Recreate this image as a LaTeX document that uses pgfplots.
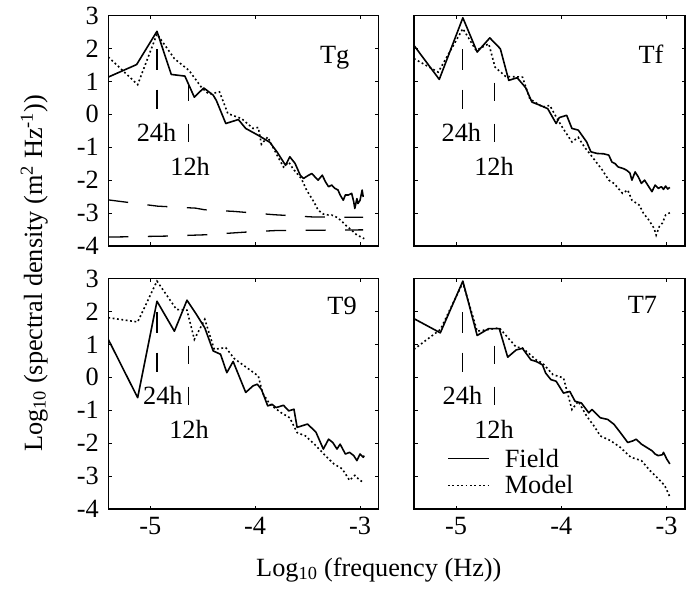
\documentclass[border=0pt]{standalone}
\usepackage{fontspec}
\setmainfont{Liberation Serif}
\usepackage{pgfplots}
\pgfplotsset{compat=1.18}
\newcommand\fsz{\fontsize{26.3}{26.3}\selectfont}
\pgfplotsset{
  panel/.style={
    scale only axis, width=270pt, height=230.5pt,
    xmin=-5.4, xmax=-2.826, ymin=-4, ymax=3,
    xtick={-5,-4,-3}, ytick={-4,-3,-2,-1,0,1,2,3},
    xticklabels={-5,-4,-3}, yticklabels={-4,-3,-2,-1,0,1,2,3},
    tick align=inside, major tick length=3.5pt,
    axis line style={line width=1.3pt},
    every tick/.style={line width=1pt, black},
    tick label style={font=\fsz},
    yticklabel style={xshift=-6pt},
    xticklabel style={yshift=-5pt},
  },
  field/.style={black, line width=1.6pt, line join=round},
  model/.style={black, line width=1.6pt, dash pattern=on 1.8pt off 2.6pt},
  mk/.style={black, line width=1.2pt, forget plot},
}
\newcommand\markers[2]{%
  \addplot[mk] coordinates {(-4.936,1.97) (-4.936,1.33)};
  \addplot[mk] coordinates {(-4.936,0.75) (-4.936,0.15)};
  \addplot[mk] coordinates {(-4.635,0.96) (-4.635,0.40)};
  \addplot[mk] coordinates {(-4.635,-0.28) (-4.635,-0.84)};
  \node[font=\fsz, anchor=base, inner sep=0pt] at (axis cs:#1,-0.84) {24h};
  \node[font=\fsz, anchor=base, inner sep=0pt] at (axis cs:#2,-1.87) {12h};
}
\begin{document}
\begin{tikzpicture}
\path[use as bounding box] (0,0) rectangle (691pt,598pt);

% ---------------- Tg ----------------
\begin{axis}[panel, at={(108.3pt,352pt)}, anchor=south west, xticklabels={}]
\addplot[field] coordinates {(-5.40,1.13) (-5.13,1.51) (-4.936,2.52) (-4.80,1.21) (-4.67,1.16) (-4.58,0.52) (-4.49,0.80) (-4.40,0.58) (-4.37,0.42) (-4.28,-0.28) (-4.16,-0.16) (-4.09,-0.43) (-3.97,-0.64) (-3.86,-0.85) (-3.79,-1.15) (-3.75,-1.35) (-3.71,-1.55) (-3.67,-1.29) (-3.62,-1.49) (-3.57,-1.85) (-3.54,-1.95) (-3.49,-1.85) (-3.46,-1.80) (-3.43,-1.90) (-3.40,-2.00) (-3.36,-1.85) (-3.33,-2.05) (-3.30,-2.20) (-3.27,-2.15) (-3.24,-2.25) (-3.21,-2.30) (-3.19,-2.45) (-3.16,-2.61) (-3.14,-2.45) (-3.11,-2.45) (-3.08,-2.40) (-3.06,-2.66) (-3.05,-2.86) (-3.03,-2.56) (-3.02,-2.71) (-3.00,-2.61) (-2.98,-2.30) (-2.97,-2.51)};
\addplot[model] coordinates {(-5.40,1.74) (-5.12,0.90) (-4.936,2.44) (-4.77,1.69) (-4.63,1.33) (-4.51,0.81) (-4.44,0.61) (-4.34,0.68) (-4.26,0.02) (-4.13,-0.13) (-4.02,-0.43) (-3.97,-0.40) (-3.94,-0.91) (-3.88,-0.69) (-3.79,-1.25) (-3.73,-1.60) (-3.68,-1.45) (-3.64,-1.65) (-3.56,-1.95) (-3.51,-2.30) (-3.44,-2.66) (-3.40,-2.91) (-3.35,-3.03) (-3.30,-3.06) (-3.27,-3.06) (-3.22,-3.13) (-3.17,-3.26) (-3.13,-3.39) (-3.08,-3.52) (-3.03,-3.67) (-2.98,-3.74) (-2.96,-3.78)};
\addplot[black, line width=1.3pt, dash pattern=on 20pt off 19.5pt] coordinates {(-5.40,-2.60) (-4.93,-2.79) (-4.57,-2.85) (-4.48,-2.90) (-4.20,-2.95) (-3.82,-3.05) (-3.44,-3.12) (-2.97,-3.13)};
\addplot[black, line width=1.3pt, dash pattern=on 20pt off 19.5pt] coordinates {(-5.40,-3.73) (-4.86,-3.70) (-4.48,-3.66) (-4.10,-3.58) (-3.80,-3.53) (-2.97,-3.51)};
\markers{-4.94}{-4.62}
\node[font=\fsz, anchor=base east, inner sep=0pt] at (axis cs:-3.10,1.54) {Tg};
\end{axis}

% ---------------- Tf ----------------
\begin{axis}[panel, at={(414pt,352pt)}, anchor=south west, width=271pt, xticklabels={}, yticklabels={}]
\addplot[field] coordinates {(-5.40,2.09) (-5.16,1.06) (-4.936,2.93) (-4.80,1.89) (-4.68,2.32) (-4.58,1.99) (-4.50,1.03) (-4.42,1.11) (-4.34,0.81) (-4.28,0.37) (-4.20,0.27) (-4.13,0.17) (-4.05,-0.28) (-4.02,-0.10) (-3.95,-0.03) (-3.90,-0.43) (-3.84,-0.48) (-3.76,-0.84) (-3.72,-1.14) (-3.66,-1.19) (-3.60,-1.20) (-3.55,-1.24) (-3.52,-1.45) (-3.49,-1.50) (-3.46,-1.60) (-3.41,-1.65) (-3.38,-1.70) (-3.35,-1.78) (-3.33,-2.00) (-3.30,-1.75) (-3.27,-1.90) (-3.24,-2.10) (-3.21,-2.00) (-3.18,-2.15) (-3.14,-2.35) (-3.11,-2.15) (-3.08,-2.25) (-3.05,-2.20) (-3.03,-2.28) (-3.01,-2.18) (-2.99,-2.27) (-2.97,-2.22)};
\addplot[model] coordinates {(-5.40,1.69) (-5.17,1.28) (-4.936,2.60) (-4.81,1.94) (-4.69,2.14) (-4.63,1.43) (-4.53,1.15) (-4.37,1.13) (-4.30,0.47) (-4.18,0.22) (-4.11,0.27) (-4.05,-0.08) (-3.99,-0.40) (-3.90,-0.84) (-3.84,-0.70) (-3.78,-1.00) (-3.72,-1.24) (-3.66,-1.49) (-3.61,-1.70) (-3.55,-2.00) (-3.50,-2.10) (-3.42,-2.40) (-3.37,-2.30) (-3.33,-2.61) (-3.26,-2.76) (-3.22,-3.01) (-3.17,-3.21) (-3.12,-3.46) (-3.10,-3.67) (-3.07,-3.41) (-3.04,-3.30) (-3.01,-3.06) (-2.97,-2.99)};
\markers{-4.95}{-4.64}
\node[font=\fsz, anchor=base east, inner sep=0pt] at (axis cs:-3.03,1.54) {Tf};
\end{axis}

% ---------------- T9 ----------------
\begin{axis}[panel, at={(108.3pt,89pt)}, anchor=south west]
\addplot[field] coordinates {(-5.40,1.15) (-5.12,-0.62) (-4.936,2.31) (-4.77,1.40) (-4.65,2.34) (-4.56,1.91) (-4.48,1.50) (-4.40,0.80) (-4.33,0.70) (-4.27,0.14) (-4.21,0.48) (-4.09,-0.46) (-4.02,-0.26) (-3.98,-0.21) (-3.94,-0.37) (-3.88,-0.87) (-3.84,-0.82) (-3.80,-0.92) (-3.73,-0.85) (-3.68,-1.02) (-3.63,-0.97) (-3.60,-1.52) (-3.50,-1.42) (-3.42,-1.67) (-3.35,-2.18) (-3.30,-1.88) (-3.26,-1.98) (-3.22,-2.18) (-3.19,-2.03) (-3.14,-2.33) (-3.10,-2.28) (-3.06,-2.38) (-3.03,-2.53) (-3.00,-2.33) (-2.97,-2.43) (-2.96,-2.38)};
\addplot[model] coordinates {(-5.40,1.81) (-5.12,1.68) (-4.936,2.92) (-4.75,2.06) (-4.65,2.04) (-4.58,1.15) (-4.48,1.76) (-4.39,0.85) (-4.28,0.90) (-4.20,0.57) (-4.07,0.27) (-3.97,0.04) (-3.93,-0.47) (-3.86,-0.82) (-3.75,-1.08) (-3.67,-1.23) (-3.60,-1.68) (-3.52,-1.78) (-3.42,-2.08) (-3.33,-2.38) (-3.25,-2.63) (-3.17,-2.78) (-3.10,-3.13) (-3.05,-2.98) (-3.00,-3.13) (-2.96,-3.20)};
\markers{-4.88}{-4.63}
\node[font=\fsz, anchor=base east, inner sep=0pt] at (axis cs:-3.03,1.90) {T9};
\end{axis}

% ---------------- T7 ----------------
\begin{axis}[panel, at={(414pt,89pt)}, anchor=south west, width=271pt, yticklabels={},
  legend style={draw=none, fill=none, inner sep=0pt, at={(0.122,0.262)}, anchor=north west,
    font=\fsz, row sep=7pt, nodes={inner sep=0pt},
    /tikz/every odd column/.append style={column sep=15pt}},
  legend cell align=left,
  legend image code/.code={\draw[#1] (0pt,0pt) -- (41pt,0pt);}]
\addplot[field] coordinates {(-5.40,1.78) (-5.15,1.35) (-4.936,2.92) (-4.80,1.27) (-4.69,1.48) (-4.59,1.48) (-4.51,0.61) (-4.43,0.83) (-4.37,0.88) (-4.29,0.53) (-4.24,0.48) (-4.18,0.38) (-4.15,0.13) (-4.10,-0.07) (-4.05,-0.12) (-3.98,-0.48) (-3.92,-0.43) (-3.87,-0.73) (-3.81,-0.78) (-3.74,-1.08) (-3.71,-0.98) (-3.63,-1.23) (-3.56,-1.28) (-3.50,-1.43) (-3.44,-1.68) (-3.37,-1.98) (-3.32,-1.93) (-3.29,-1.88) (-3.24,-2.03) (-3.19,-2.13) (-3.14,-2.23) (-3.11,-2.33) (-3.08,-2.38) (-3.04,-2.35) (-3.03,-2.28) (-3.00,-2.48) (-2.97,-2.63)};
\addlegendentry{Field}
\addplot[model] coordinates {(-5.40,0.85) (-5.15,1.45) (-4.936,2.87) (-4.80,1.40) (-4.59,1.50) (-4.43,0.92) (-4.37,0.89) (-4.24,0.53) (-4.18,0.43) (-4.08,0.08) (-3.98,-0.02) (-3.90,-0.98) (-3.84,-0.73) (-3.76,-1.18) (-3.69,-1.48) (-3.63,-1.78) (-3.53,-1.93) (-3.44,-2.13) (-3.34,-2.43) (-3.24,-2.53) (-3.16,-2.83) (-3.08,-3.08) (-3.02,-3.28) (-2.97,-3.63)};
\addlegendentry{Model}
\markers{-4.94}{-4.64}
\node[font=\fsz, anchor=base east, inner sep=0pt] at (axis cs:-3.09,1.95) {T7};
\end{axis}

\node[font=\fsz, anchor=base west, inner sep=0pt] at (256pt,22pt) {Log\textsubscript{10} (frequency (Hz))};
\node[font=\fsz, anchor=base west, inner sep=0pt, rotate=90] at (42pt,146pt) {Log\textsubscript{10} (spectral density (m\textsuperscript{2} Hz\textsuperscript{-1}))};
\end{tikzpicture}
\end{document}
